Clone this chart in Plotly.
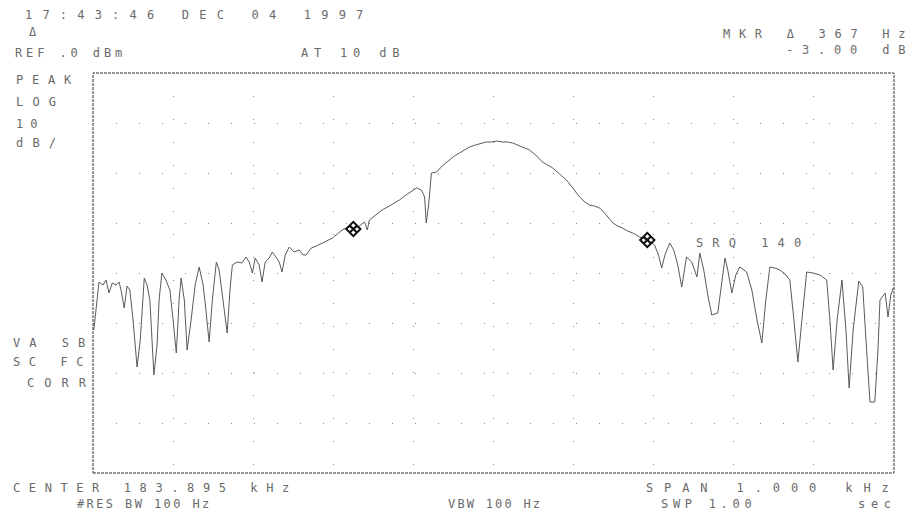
import plotly.graph_objects as go

# ---- data (offset from center frequency, Hz / level, dBm)
center_khz = 183.895
span_hz = 1000
ref_level_dbm = 0.0
db_per_div = 10

freq_offset_hz = [
    -499, -495, -492.5, -487.5, -483.75, -480, -476, -471, -467.5, -465,
    -461, -457.5, -454, -450, -445, -441, -436, -432.5, -429, -424,
    -420, -417.5, -414, -409, -404, -400, -396, -392.5, -390, -386,
    -382.5, -377.5, -372.5, -367.5, -362.5, -359, -355, -351, -346, -342.5,
    -337.5, -332.5, -329, -326, -320, -314, -309, -305, -301, -297.5,
    -292.5, -289, -285, -280, -276, -271, -267.5, -264, -260, -255,
    -249, -242.5, -237.5, -234, -227.5, -221, -214, -207.5, -201, -195,
    -189, -184, -180, -174, -167.5, -161, -157.5, -155, -147.5, -139,
    -130, -117.5, -107.5, -96, -90, -86, -84, -81, -77.5, -71,
    -64, -55, -49, -42.5, -36, -30, -22.5, -15, -9, -2.5,
    4, 11, 17.5, 24, 30, 37.5, 45, 54, 61, 67.5,
    74, 82.5, 91, 99, 107.5, 114, 120, 126, 132.5, 137.5,
    141, 145, 149, 155, 161, 167.5, 174, 182.5, 192.5, 201,
    206, 210, 214, 220, 225, 230, 235, 239, 241, 247.5,
    254, 257.5, 262.5, 267.5, 272.5, 280, 284, 289, 292.5, 297.5,
    302.5, 307.5, 316, 322.5, 329, 335, 340, 345, 351, 357.5,
    364, 370, 375, 380, 385, 391, 399, 407.5, 416, 420,
    424, 429, 435, 440, 444, 449, 456, 461, 465, 470,
    476, 480, 482.5, 489, 492.5, 496, 499,
]
level_dbm = [
    -51.4, -45.4, -41.8, -42.4, -41.4, -44.0, -42.0, -42.4, -41.8, -43.4,
    -47.0, -42.6, -43.4, -49.4, -58.8, -53.4, -41.0, -42.4, -45.4, -60.4,
    -54.4, -45.4, -40.0, -41.4, -43.4, -49.4, -56.0, -45.4, -41.0, -45.4,
    -55.4, -49.4, -42.4, -38.8, -42.4, -47.4, -53.8, -45.4, -37.8, -39.4,
    -45.4, -52.0, -43.4, -38.4, -37.8, -38.0, -36.8, -37.8, -40.0, -37.0,
    -38.4, -41.8, -37.8, -37.0, -35.8, -37.0, -37.8, -39.8, -36.4, -34.8,
    -35.8, -35.4, -36.4, -36.4, -35.0, -34.6, -34.0, -33.4, -33.0, -32.2,
    -31.4, -31.0, -30.8, -31.2, -30.6, -29.8, -31.4, -29.4, -28.4, -27.4,
    -26.6, -25.4, -24.2, -23.0, -23.4, -24.8, -30.0, -26.4, -20.0, -19.8,
    -18.6, -17.4, -16.6, -16.0, -15.4, -14.8, -14.4, -14.0, -13.8, -13.8,
    -13.6, -13.8, -13.8, -14.0, -14.4, -14.8, -15.4, -16.6, -17.8, -18.4,
    -19.0, -20.2, -21.4, -23.0, -24.8, -25.8, -26.4, -26.6, -27.0, -27.8,
    -28.4, -29.2, -30.0, -30.6, -31.0, -31.6, -32.0, -32.8, -33.4, -34.4,
    -36.4, -39.0, -36.4, -34.0, -35.4, -38.4, -42.8, -38.4, -36.8, -37.8,
    -40.8, -36.0, -39.4, -44.4, -48.4, -48.0, -43.4, -37.0, -39.4, -44.0,
    -40.4, -38.8, -39.8, -43.4, -49.4, -54.0, -45.4, -38.8, -39.0, -39.4,
    -40.2, -41.4, -49.4, -57.8, -49.4, -39.8, -40.0, -40.4, -41.4, -49.4,
    -59.4, -49.4, -41.4, -51.4, -63.0, -51.4, -41.6, -42.8, -53.4, -65.8,
    -65.8, -55.4, -45.4, -44.0, -48.8, -44.4, -43.0,
]
marker_offset_hz = [-175, 192]
marker_level_dbm = [-31.2, -33.4]

# screen annotation texts
header_texts = [
    "17:43:46 DEC 04 1997",
    "Δ",
    "REF .0 dBm",
    "AT 10 dB",
    "MKR Δ 367 Hz",
    "-3.00 dB",
    "PEAK", "LOG", "10", "dB/",
    "VA SB", "SC FC", "CORR",
    "SRQ 140",
    "CENTER 183.895 kHz",
    "#RES BW 100 Hz",
    "VBW 100 Hz",
    "SPAN 1.000 kHz",
    "SWP 1.00",
    "sec",
]

# ---- layout geometry (pixels)
W, H = 914, 529
L, R, T, B = 93, 894, 73, 473

# left px, right px, center y px for each text
text_boxes = [
    (24, 365, 15),
    (28, 40, 32),
    (14, 120, 53),
    (300, 398, 53),
    (722, 906, 34),
    (785, 906, 50),
    (15, 72, 80), (15, 57, 102), (15, 37, 124), (15, 57, 143),
    (12, 86, 343), (12, 84, 362), (26, 87, 383),
    (695, 802, 243),
    (12, 290, 488),
    (76, 207, 504),
    (447, 537, 504),
    (645, 890, 488),
    (660, 750, 504),
    (857, 890, 504),
]

FONT = "DejaVu Sans Mono"
FSIZE = 12
ADV = 0.602 * FSIZE


def px_x(p):
    return (p - L) / (R - L)


def px_y(p):
    return (B - p) / (B - T)


fig = go.Figure()
fig.add_trace(go.Scatter(
    x=freq_offset_hz, y=level_dbm, mode="lines",
    line=dict(color="#5a5a5a", width=1), hoverinfo="skip",
))
fig.add_trace(go.Scatter(
    x=marker_offset_hz, y=marker_level_dbm, mode="markers",
    marker=dict(symbol="diamond-x-open", size=11, color="#111",
                line=dict(width=2, color="#111")),
    hoverinfo="skip",
))

annotations = []
for txt, (x0, x1, yc) in zip(header_texts, text_boxes):
    n = len(txt)
    if n > 1:
        pitch = (x1 - x0) / (n - 0.45)
        ls = max(0.0, pitch - ADV)
    else:
        ls = 0.0
    annotations.append(dict(
        x=px_x(x0), y=px_y(yc), xref="paper", yref="paper",
        xanchor="left", yanchor="middle", showarrow=False, align="left",
        borderpad=0,
        text=f'<span style="letter-spacing:{ls:.1f}px">{txt}</span>',
        font=dict(family=FONT, size=FSIZE, color="#6a6a6a"),
    ))

fig.update_layout(
    width=W, height=H,
    margin=dict(l=L, r=W - R, t=T, b=H - B, pad=0),
    paper_bgcolor="white", plot_bgcolor="white",
    showlegend=False,
    annotations=annotations,
    shapes=[dict(type="rect", xref="paper", yref="paper", x0=0, x1=1, y0=0, y1=1,
                 line=dict(color="#333", width=1, dash="3px,1px"))],
)
fig.update_xaxes(
    range=[-span_hz / 2, span_hz / 2], dtick=span_hz / 10, tick0=-span_hz / 2,
    showgrid=True, gridcolor="#888", gridwidth=1, griddash="1px,22px",
    showticklabels=False, zeroline=False, showline=False, ticks="",
)
fig.update_yaxes(
    range=[ref_level_dbm - 8 * db_per_div, ref_level_dbm], dtick=db_per_div,
    tick0=ref_level_dbm,
    showgrid=True, gridcolor="#888", gridwidth=1, griddash="1px,22px",
    showticklabels=False, zeroline=False, showline=False, ticks="",
)

fig.write_html(
    "out.html",
    config={"displayModeBar": False},
    post_script="document.body.style.margin='0';document.body.style.overflow='hidden';",
)
